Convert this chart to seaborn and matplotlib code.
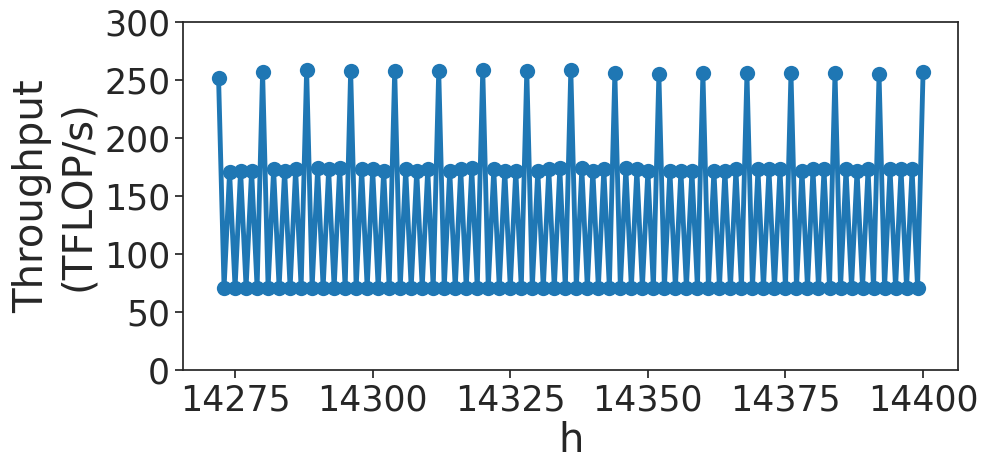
import numpy as np
import pandas as pd
import matplotlib
matplotlib.use("Agg")
import matplotlib.pyplot as plt
import seaborn as sns

# hidden size h, one sample per integer step
h_values = list(range(14272, 14401))

# throughput, one row per period of 8
throughput = [
    252, 71, 171, 71, 172, 71, 172, 71,
    257, 71, 173, 71, 172, 71, 173, 71,
    259, 71, 174, 71, 173, 71, 174, 71,
    258, 71, 173, 71, 173, 71, 172, 71,
    258, 71, 173, 71, 172, 71, 173, 71,
    258, 71, 172, 71, 173, 71, 174, 71,
    259, 71, 173, 71, 172, 71, 172, 71,
    258, 71, 172, 71, 173, 71, 174, 71,
    259, 71, 174, 71, 172, 71, 173, 71,
    256, 71, 174, 71, 173, 71, 172, 71,
    255, 71, 172, 71, 172, 71, 172, 71,
    256, 71, 172, 71, 172, 71, 173, 71,
    256, 71, 173, 71, 173, 71, 173, 71,
    256, 71, 172, 71, 173, 71, 173, 71,
    256, 71, 173, 71, 172, 71, 173, 71,
    255, 71, 173, 71, 173, 71, 173, 71,
    257,
]

df = pd.DataFrame({"h": h_values, "Throughput": throughput})

sns.set_theme(style="ticks")
plt.rcParams["font.family"] = ["DejaVu Sans"]

fig, ax = plt.subplots(figsize=(9.91, 4.73), dpi=100)
sns.lineplot(ax=ax, data=df, x="h", y="Throughput", marker="o",
             color="#1f77b4", linewidth=3.5, markersize=11,
             markeredgewidth=0)

ax.set_ylim(0, 300)
ax.set_xticks([14275, 14300, 14325, 14350, 14375, 14400])
ax.set_yticks([0, 50, 100, 150, 200, 250, 300])
ax.tick_params(labelsize=25)
ax.set_xlabel("h", fontsize=29, labelpad=3)
ax.set_ylabel("Throughput\n(TFLOP/s)", fontsize=29, labelpad=4)

plt.subplots_adjust(left=0.185, right=0.967, top=0.953, bottom=0.218)
plt.savefig("out.png", dpi=100)
